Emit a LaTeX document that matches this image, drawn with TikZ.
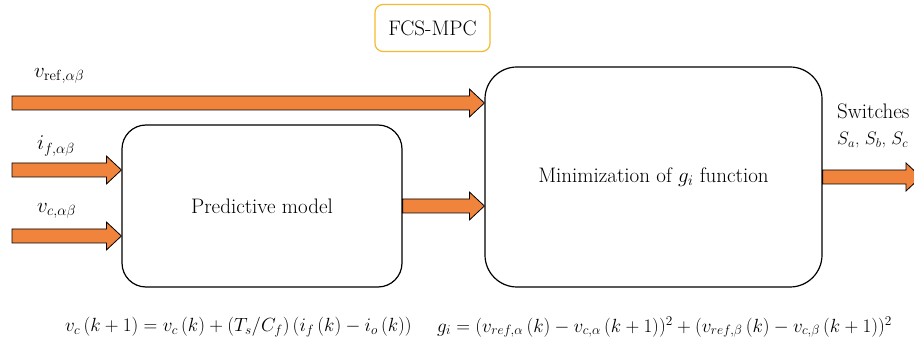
\RequirePackage{fix-cm}
\documentclass[tikz,border=0pt]{standalone}
\usetikzlibrary{calc}
\definecolor{arrfill}{HTML}{F0843C}
\definecolor{mpcgold}{HTML}{F6BA30}
\tikzset{
  x=1pt, y=1pt,
  block/.style={draw=black, line width=1.2pt, fill=white, inner sep=0pt},
  fatarr/.style={draw=black, line width=0.8pt, fill=arrfill, line join=miter},
  lbl/.style={inner sep=0pt, font=\fontsize{21}{24}\selectfont},
  eqn/.style={inner sep=0pt, font=\fontsize{19.1}{22}\selectfont},
}
% Fat block arrow from the first point to the x of the second point
\newcommand\fatarrow[2]{%
  \path[fatarr] let \p1=(#1), \p2=(#2) in
    (\x1,\y1+7) -- (\x2-15,\y1+7) -- (\x2-15,\y1+14) -- (\x2,\y1)
    -- (\x2-15,\y1-14) -- (\x2-15,\y1-7) -- (\x1,\y1-7) -- cycle;}
\begin{document}
\begin{tikzpicture}
\useasboundingbox (0,0) rectangle (914,351);

% blocks
\node[block, draw=mpcgold, rounded corners=8pt, minimum width=115pt, minimum height=47pt,
      lbl] (mpc) at (432.5,323) {FCS-MPC};
\node[block, rounded corners=24pt, minimum width=280pt, minimum height=162pt, lbl]
      (pred) at (262,145) {Predictive model};
\node[block, rounded corners=32pt, minimum width=337pt, minimum height=220pt, lbl]
      (min) at (653.5,174) {Minimization of $g_i$ function};

% input points
\coordinate (vref) at (12,248);
\coordinate (ifin) at (12,181);
\coordinate (vcin) at (12,115);
\coordinate (sw) at (921,174);

% connectors
\fatarrow{vref}{min.west |- vref}
\fatarrow{ifin}{pred.west |- ifin}
\fatarrow{vcin}{pred.west |- vcin}
\fatarrow{pred.east}{min.west |- pred.east}
\fatarrow{min.east}{sw}

% signal labels
\node[lbl, anchor=west] (lvref) at (34,275) {$v_{\mathrm{ref},\alpha\beta}$};
\node[lbl, anchor=west] (lif) at (37,205) {$i_{f,\alpha\beta}$};
\node[lbl, anchor=west] (lvc) at (37,140) {$v_{c,\alpha\beta}$};
\node[lbl, anchor=west] (lsw) at (837,240) {Switches};
\node[lbl, anchor=west, font=\fontsize{18}{21}\selectfont] (lsabc) at (837,211)
  {$S_a$, $S_b$, $S_c$};

% model equations
\node[eqn, anchor=west] (eq1) at (65,24)
  {$v_c\,(k+1) = v_c\,(k) + (T_s/C_f)\,(i_f\,(k) - i_o\,(k))$};
\node[eqn, anchor=west] (eq2) at (437,24)
  {$g_i = (v_{ref,\alpha}\,(k) - v_{c,\alpha}\,(k+1))^2 + (v_{ref,\beta}\,(k) - v_{c,\beta}\,(k+1))^2$};
\end{tikzpicture}
\end{document}
